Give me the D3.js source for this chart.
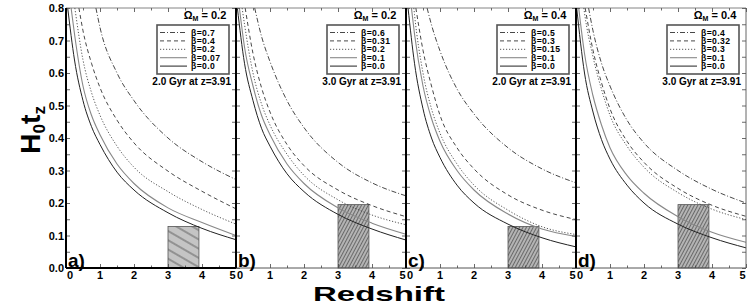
<!DOCTYPE html>
<html>
<head>
<meta charset="utf-8">
<script src="https://cdn.jsdelivr.net/npm/d3@7/dist/d3.min.js"></script>
<style>
body { margin: 0; background: #fff; }
text { font-family: "Liberation Sans", Arial, sans-serif; font-weight: bold; }
</style>
</head>
<body>
<svg id="chart" width="747" height="305"></svg>
<script>
const zGrid = [0.25, 0.5, 0.75, 1, 1.5, 2, 3, 4, 5];

const panelLabels = ["a)", "b)", "c)", "d)"];
const omegaM = ["0.2", "0.2", "0.4", "0.4"];
const gyrLabels = ["2.0 Gyr at z=3.91", "3.0 Gyr at z=3.91", "2.0 Gyr at z=3.91", "3.0 Gyr at z=3.91"];
const boxHeights = [0.128, 0.195, 0.128, 0.195];
const boxRange = [3.0, 3.91];

// beta values per panel, top curve first
const betasA = ["0.7", "0.4", "0.2", "0.07", "0.0"];
const betasB = ["0.6", "0.31", "0.2", "0.1", "0.0"];
const betasC = ["0.5", "0.3", "0.15", "0.1", "0.0"];
const betasD = ["0.4", "0.32", "0.3", "0.1", "0.0"];

// redshift at which each curve leaves the top of the frame (H0t = 0.8)
const topZA = [0.88, 0.38, 0.26, 0.15, 0.05];
const topZB = [0.55, 0.27, 0.18, 0.10, 0.04];
const topZC = [0.62, 0.29, 0.23, 0.16, 0.06];
const topZD = [0.37, 0.27, 0.23, 0.08, 0.02];

// H0 t(z) on zGrid (null = above the frame)
const valuesA = [
    [null, null, null, 0.74, 0.60, 0.515, 0.40, 0.327, 0.272],
    [null, 0.73, 0.63, 0.555, 0.455, 0.385, 0.298, 0.236, 0.182],
    [null, 0.64, 0.54, 0.47, 0.375, 0.31, 0.235, 0.18, 0.135],
    [0.72, 0.56, 0.47, 0.41, 0.32, 0.26, 0.185, 0.14, 0.10],
    [0.64, 0.515, 0.435, 0.38, 0.295, 0.24, 0.17, 0.122, 0.087]
];
const valuesB = [
    [null, null, 0.713, 0.635, 0.515, 0.432, 0.325, 0.262, 0.222],
    [null, 0.66, 0.555, 0.48, 0.38, 0.315, 0.24, 0.192, 0.158],
    [0.75, 0.60, 0.505, 0.44, 0.35, 0.285, 0.21, 0.163, 0.133],
    [0.68, 0.56, 0.47, 0.41, 0.32, 0.26, 0.185, 0.138, 0.104],
    [0.63, 0.515, 0.43, 0.375, 0.29, 0.235, 0.165, 0.12, 0.086]
];
const valuesC = [
    [null, null, 0.748, 0.668, 0.551, 0.474, 0.37, 0.305, 0.262],
    [null, 0.67, 0.56, 0.47, 0.37, 0.305, 0.225, 0.178, 0.149],
    [0.78, 0.60, 0.49, 0.415, 0.32, 0.255, 0.178, 0.127, 0.103],
    [0.72, 0.56, 0.46, 0.39, 0.30, 0.24, 0.166, 0.12, 0.097],
    [0.63, 0.49, 0.40, 0.34, 0.255, 0.20, 0.135, 0.093, 0.065]
];
const valuesD = [
    [null, 0.73, 0.63, 0.56, 0.455, 0.385, 0.30, 0.242, 0.20],
    [null, 0.67, 0.57, 0.49, 0.39, 0.325, 0.245, 0.193, 0.159],
    [0.785, 0.65, 0.55, 0.47, 0.375, 0.31, 0.232, 0.181, 0.149],
    [0.66, 0.53, 0.44, 0.37, 0.285, 0.23, 0.158, 0.11, 0.079],
    [0.60, 0.48, 0.395, 0.335, 0.255, 0.20, 0.135, 0.093, 0.062]
];

const yTicks = [0, 0.1, 0.2, 0.3, 0.4, 0.5, 0.6, 0.7, 0.8];
const xTicks = [0, 1, 2, 3, 4, 5];

const panels = [
    {betas: betasA, topZ: topZA, values: valuesA},
    {betas: betasB, topZ: topZB, values: valuesB},
    {betas: betasC, topZ: topZC, values: valuesC},
    {betas: betasD, topZ: topZD, values: valuesD}
];

const lineStyles = [
    {dash: "5,2,1,2", color: "#333", width: 0.9},
    {dash: "4,3", color: "#333", width: 0.9},
    {dash: "1.2,1.8", color: "#444", width: 0.9},
    {dash: null, color: "#888", width: 1.1},
    {dash: null, color: "#222", width: 1}
];

const plotLeft = 66, panelW = 170, plotTop = 8, plotBottom = 268;

const svg = d3.select("#chart");
const defs = svg.append("defs");

const y = d3.scaleLinear().domain([0, 0.8]).range([plotBottom, plotTop]);

// hatching, sparse for panel a, dense for the others
const hatchSparse = defs.append("pattern")
    .attr("id", "hatch0")
    .attr("patternUnits", "userSpaceOnUse")
    .attr("width", 8).attr("height", 8)
    .attr("patternTransform", "rotate(30)");
hatchSparse.append("rect").attr("width", 8).attr("height", 8).attr("fill", "#c4c4c4");
hatchSparse.append("line").attr("x1", 0).attr("x2", 8).attr("y1", 4).attr("y2", 4)
    .attr("stroke", "#555").attr("stroke-width", 0.9);

const hatchDense = defs.append("pattern")
    .attr("id", "hatch1")
    .attr("patternUnits", "userSpaceOnUse")
    .attr("width", 3).attr("height", 3)
    .attr("patternTransform", "rotate(-62)");
hatchDense.append("rect").attr("width", 3).attr("height", 3).attr("fill", "#b4b4b4");
hatchDense.append("line").attr("x1", 0).attr("x2", 3).attr("y1", 1.5).attr("y2", 1.5)
    .attr("stroke", "#555").attr("stroke-width", 0.8);

panels.forEach((p, i) => {
    const x0 = plotLeft + i * panelW, x1 = x0 + panelW;
    const x = d3.scaleLinear().domain([0, 5]).range([x0, x1]);
    const g = svg.append("g").attr("class", "panel");

    defs.append("clipPath").attr("id", "clip" + i)
        .append("rect").attr("x", x0).attr("y", plotTop).attr("width", panelW).attr("height", plotBottom - plotTop);

    // age box
    g.append("rect")
        .attr("x", x(boxRange[0]))
        .attr("y", y(boxHeights[i]))
        .attr("width", x(boxRange[1]) - x(boxRange[0]))
        .attr("height", y(0) - y(boxHeights[i]))
        .attr("fill", i === 0 ? "url(#hatch0)" : "url(#hatch1)")
        .attr("stroke", "#555")
        .attr("stroke-width", 0.8);

    // curves
    const line = d3.line()
        .x(d => x(d.z))
        .y(d => y(d.v))
        .curve(d3.curveMonotoneX);

    p.values.forEach((vals, k) => {
        const pts = [{z: p.topZ[k], v: 0.8}];
        zGrid.forEach((z, j) => {
            if (vals[j] != null && z > p.topZ[k]) pts.push({z: z, v: vals[j]});
        });
        const st = lineStyles[k];
        g.append("path")
            .datum(pts)
            .attr("clip-path", `url(#clip${i})`)
            .attr("d", line)
            .attr("fill", "none")
            .attr("stroke", st.color)
            .attr("stroke-width", st.width)
            .attr("stroke-dasharray", st.dash);
    });

    // frame ticks
    const axB = g.append("g").attr("transform", `translate(0,${plotBottom})`)
        .call(d3.axisBottom(x).tickValues(d3.range(0, 5.01, 0.5)).tickSize(-4).tickFormat(""));
    axB.selectAll(".tick line").filter(d => d % 1 !== 0).attr("y2", -2.5);
    const axT = g.append("g").attr("transform", `translate(0,${plotTop})`)
        .call(d3.axisTop(x).tickValues(d3.range(0, 5.01, 0.5)).tickSize(-4).tickFormat(""));
    axT.selectAll(".tick line").filter(d => d % 1 !== 0).attr("y2", 2.5);
    const axL = g.append("g").attr("transform", `translate(${x0},0)`)
        .call(d3.axisLeft(y).tickValues(d3.range(0, 0.801, 0.05)).tickSize(-4).tickFormat(""));
    const axR = g.append("g").attr("transform", `translate(${x1},0)`)
        .call(d3.axisRight(y).tickValues(d3.range(0, 0.801, 0.05)).tickSize(-4).tickFormat(""));
    [axB, axT, axL, axR].forEach(a => {
        a.select(".domain").remove();
        a.selectAll(".tick line").attr("stroke", "#444").attr("stroke-width", 0.8);
    });

    // frame lines
    g.append("line").attr("x1", x0).attr("x2", x1).attr("y1", plotTop).attr("y2", plotTop)
        .attr("stroke", "#666").attr("stroke-width", 0.8);
    g.append("line").attr("x1", x0).attr("x2", x1).attr("y1", plotBottom).attr("y2", plotBottom)
        .attr("stroke", i === 0 ? "#000" : "#555").attr("stroke-width", i === 0 ? 1.8 : 1);
    g.append("line").attr("x1", x0).attr("x2", x0).attr("y1", plotTop).attr("y2", plotBottom)
        .attr("stroke", "#000").attr("stroke-width", 2);
    if (i === panels.length - 1) {
        g.append("line").attr("x1", x1).attr("x2", x1).attr("y1", plotTop).attr("y2", plotBottom)
            .attr("stroke", "#555").attr("stroke-width", 0.9);
    }

    // x tick labels
    g.selectAll("text.xlab")
        .data(xTicks)
        .join("text")
        .attr("class", "xlab")
        .attr("x", d => d === 0 ? x(d) + 1 : (d === 5 ? x(d) - 0.5 : x(d)))
        .attr("y", 279)
        .attr("text-anchor", d => d === 0 ? "start" : (d === 5 ? "end" : "middle"))
        .attr("font-size", 11)
        .text(d => d);

    // panel tag
    g.append("text")
        .attr("x", x0 + 2)
        .attr("y", 267)
        .attr("font-size", 19)
        .text(panelLabels[i]);

    // legend
    const lx1 = x1 - 7, lx0 = lx1 - 72;
    g.append("text")
        .attr("x", x1 - 31)
        .attr("y", 19)
        .attr("text-anchor", "middle")
        .attr("font-size", 11)
        .call(t => {
            t.append("tspan").text("Ω");
            t.append("tspan").attr("font-size", 7).attr("dy", 2).text("M");
            t.append("tspan").attr("dy", -2).text(" = " + omegaM[i]);
        });
    g.append("rect")
        .attr("x", lx0).attr("y", 25)
        .attr("width", lx1 - lx0).attr("height", 49)
        .attr("fill", "#fff")
        .attr("stroke", "#555")
        .attr("stroke-width", 1.6);
    p.betas.forEach((b, k) => {
        const ly = 32.5 + k * 8.4;
        const st = lineStyles[k];
        g.append("line")
            .attr("x1", lx0 + 3).attr("x2", lx0 + 30)
            .attr("y1", ly).attr("y2", ly)
            .attr("stroke", st.color)
            .attr("stroke-width", st.width)
            .attr("stroke-dasharray", st.dash);
        g.append("text")
            .attr("x", lx0 + 34).attr("y", ly + 3)
            .attr("font-size", 8.6)
            .attr("letter-spacing", 0.4)
            .text("β=" + b);
    });
    g.append("text")
        .attr("x", x1 - 5).attr("y", 84.5)
        .attr("text-anchor", "end")
        .attr("font-size", 10)
        .text(gyrLabels[i]);
});

// y tick labels (left panel only)
svg.append("g").selectAll("text")
    .data(yTicks)
    .join("text")
    .attr("x", 64)
    .attr("y", d => y(d) + 4)
    .attr("text-anchor", "end")
    .attr("font-size", 11)
    .text(d => d.toFixed(1));

// axis titles
svg.append("text")
    .attr("x", 379).attr("y", 300.5)
    .attr("text-anchor", "middle")
    .attr("font-size", 20.5)
    .attr("textLength", 132)
    .attr("lengthAdjust", "spacingAndGlyphs")
    .text("Redshift");

svg.append("text")
    .attr("transform", "translate(40,130) rotate(-90)")
    .attr("text-anchor", "middle")
    .attr("font-size", 28)
    .attr("textLength", 48)
    .attr("lengthAdjust", "spacingAndGlyphs")
    .call(t => {
        t.append("tspan").text("H");
        t.append("tspan").attr("font-size", 17).attr("dy", 5).text("0");
        t.append("tspan").attr("dy", -5).text("t");
        t.append("tspan").attr("font-size", 17).attr("dy", 5).text("z");
    });
</script>
</body>
</html>
